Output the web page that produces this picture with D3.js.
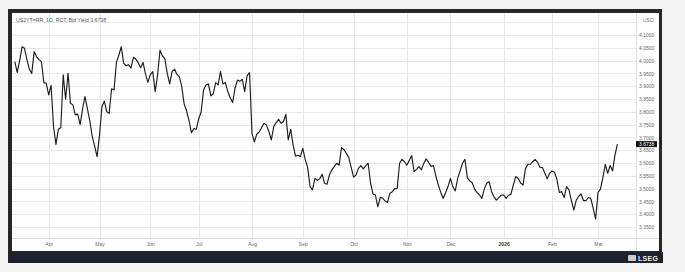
<!DOCTYPE html>
<html><head><meta charset="utf-8">
<script src="https://cdn.jsdelivr.net/npm/d3@7/dist/d3.min.js"></script>
<style>html,body{margin:0;padding:0;background:#f3f3f3;}svg{display:block}</style>
</head><body>
<svg id="c" width="685" height="272"></svg>
<script>
// ---- data ----
const titleText = "US2YT=RR, 1D, RCT, Bid Yield";
const lastLabel = "3.6738";
const currency = "USD";
const startDate = "2025-03-12";
const endDate = "2026-03-12";
const holidays = ["2025-04-18","2025-05-26","2025-06-19","2025-07-04","2025-09-01","2025-10-13",
  "2025-11-11","2025-11-27","2025-12-25","2026-01-01","2026-01-19","2026-02-16"];
const yields = [
  3.996,3.954,4.000,4.054,4.048,4.005,3.966,3.950,4.035,4.015,
  4.004,3.996,3.914,3.911,3.866,3.903,3.742,3.673,3.732,3.738,
  3.944,3.849,3.950,3.833,3.827,3.788,3.791,3.751,3.811,3.859,
  3.811,3.765,3.703,3.666,3.625,3.709,3.820,3.842,3.800,3.794,
  3.890,3.885,3.993,4.022,4.054,3.989,3.980,3.984,3.971,4.013,
  4.006,3.992,3.972,3.993,3.948,3.915,3.945,3.957,3.879,3.944,
  4.041,4.018,4.008,3.950,3.909,3.958,3.967,3.946,3.937,3.898,
  3.830,3.803,3.765,3.718,3.735,3.732,3.773,3.800,3.885,3.905,
  3.909,3.862,3.870,3.914,3.905,3.957,3.909,3.914,3.879,3.855,
  3.836,3.892,3.924,3.919,3.927,3.879,3.941,3.953,3.716,3.683,
  3.713,3.721,3.739,3.755,3.748,3.722,3.690,3.742,3.758,3.771,
  3.755,3.761,3.790,3.690,3.732,3.670,3.627,3.630,3.625,3.657,
  3.614,3.582,3.508,3.495,3.540,3.532,3.538,3.556,3.521,3.517,
  3.553,3.573,3.586,3.599,3.592,3.660,3.652,3.638,3.621,3.583,
  3.545,3.553,3.579,3.590,3.577,3.590,3.599,3.521,3.479,3.475,
  3.429,3.466,3.462,3.452,3.446,3.482,3.488,3.500,3.501,3.599,
  3.614,3.605,3.592,3.610,3.629,3.566,3.575,3.586,3.573,3.599,
  3.616,3.603,3.586,3.590,3.549,3.514,3.485,3.462,3.484,3.508,
  3.540,3.508,3.491,3.540,3.569,3.599,3.614,3.543,3.530,3.523,
  3.498,3.484,3.475,3.462,3.498,3.521,3.527,3.488,3.468,3.455,
  3.465,3.474,3.475,3.462,3.474,3.478,3.514,3.547,3.540,3.522,
  3.514,3.577,3.595,3.595,3.605,3.614,3.603,3.583,3.582,3.561,
  3.538,3.560,3.569,3.564,3.536,3.485,3.488,3.465,3.508,3.495,
  3.452,3.416,3.455,3.470,3.479,3.453,3.453,3.465,3.462,3.423,
  3.381,3.485,3.498,3.543,3.595,3.560,3.590,3.569,3.631,3.6738
];
const yTicks = [3.35,3.40,3.45,3.50,3.55,3.60,3.65,3.70,3.75,3.80,3.85,3.90,3.95,4.00,4.05,4.10];
const yGridExtra = [4.15];
const monthStarts = ["2025-04-01","2025-05-01","2025-06-01","2025-07-01","2025-08-01","2025-09-01",
  "2025-10-01","2025-11-01","2025-12-01","2026-01-01","2026-02-01","2026-03-01"];
const monthLabels = ["Apr","May","Jun","Jul","Aug","Sep","Oct","Nov","Dec","2026","Feb","Mar"];

// ---- trading days ----
const parse = d3.timeParse("%Y-%m-%d");
const fmt = d3.timeFormat("%Y-%m-%d");
const hol = new Set(holidays);
const days = d3.timeDay.range(parse(startDate), d3.timeDay.offset(parse(endDate), 1))
  .filter(d => d.getDay() !== 0 && d.getDay() !== 6 && !hol.has(fmt(d)));
const data = days.map((d, i) => ({date: d, i, v: yields[i]})).filter(d => d.v !== undefined);

const svg = d3.select("#c");
const W = 685, H = 272;
const plot = {l: 12, r: 636, t: 13, b: 238};

svg.append("rect").attr("width", W).attr("height", H).attr("fill", "#f3f3f3");
svg.append("rect").attr("x", 8).attr("y", 9).attr("width", 654).attr("height", 254).attr("fill", "#262626");
svg.append("rect").attr("x", 12).attr("y", 13).attr("width", 647).attr("height", 238).attr("fill", "#ffffff");
svg.append("rect").attr("x", 10).attr("y", 252).attr("width", 653).attr("height", 11).attr("fill", "#1d2230");

const x = d3.scaleLinear().domain([0, days.length - 1]).range([14.8, 617.4]);
const y = d3.scaleLinear().domain([3.35, 4.10]).range([227, 35]);

const tickIdx = monthStarts.map(s => days.findIndex(d => d >= parse(s)));

// grid
const gGridY = svg.append("g").attr("transform", `translate(${plot.l},0)`)
  .call(d3.axisRight(y).tickValues(yTicks.concat(yGridExtra)).tickSize(plot.r - plot.l).tickFormat(""));
gGridY.select(".domain").remove();
gGridY.selectAll("line").attr("stroke", "#e9e9e9").attr("stroke-width", 1).attr("shape-rendering", "crispEdges");

const gGridX = svg.append("g").attr("transform", `translate(0,${plot.b})`)
  .call(d3.axisBottom(x).tickValues(tickIdx).tickSize(-(plot.b - plot.t)).tickFormat(""));
gGridX.select(".domain").remove();
gGridX.selectAll("line").attr("stroke", "#e9e9e9").attr("stroke-width", 1).attr("shape-rendering", "crispEdges");

// separators
svg.append("line").attr("x1", 12).attr("x2", 659).attr("y1", plot.b + 0.5).attr("y2", plot.b + 0.5).attr("stroke", "#dedede");
svg.append("line").attr("x1", plot.r + 0.5).attr("x2", plot.r + 0.5).attr("y1", 13).attr("y2", 251).attr("stroke", "#e2e2e2");

// line
svg.append("path").datum(data)
  .attr("fill", "none").attr("stroke", "#1c1c1c").attr("stroke-width", 1.15)
  .attr("stroke-linejoin", "round")
  .attr("d", d3.line().x(d => x(d.i)).y(d => y(d.v)));

const font = "'Liberation Sans', Arial, sans-serif";
const gY = svg.append("g").attr("transform", `translate(${plot.r + 3},0)`)
  .call(d3.axisRight(y).tickValues(yTicks).tickSize(0).tickPadding(0).tickFormat(d3.format(".4f")));
gY.select(".domain").remove();
gY.selectAll("text").attr("font-family", font).attr("font-size", 5).attr("fill", "#666");

svg.append("text").attr("x", 643).attr("y", 21.5).attr("font-family", font).attr("font-size", 5).attr("fill", "#777").text(currency);

const gX = svg.append("g").attr("transform", `translate(0,${plot.b})`)
  .call(d3.axisBottom(x).tickValues(tickIdx).tickSize(0).tickPadding(4.5)
    .tickFormat((d, i) => monthLabels[i]));
gX.select(".domain").remove();
gX.selectAll("text").attr("font-family", font).attr("font-size", 5)
  .attr("font-weight", (d, i) => monthLabels[i] === "2026" ? "bold" : "normal")
  .attr("fill", (d, i) => monthLabels[i] === "2026" ? "#333" : "#666");

svg.append("text").attr("x", 16).attr("y", 22).attr("font-family", font).attr("font-size", 5.2).attr("fill", "#555")
  .text(titleText + "  " + lastLabel);

const last = data[data.length - 1];
svg.append("rect").attr("x", plot.r).attr("y", y(last.v) - 3).attr("width", 21).attr("height", 6).attr("fill", "#111");
svg.append("text").attr("x", plot.r + 3).attr("y", y(last.v) + 1.8).attr("font-family", font).attr("font-size", 5)
  .attr("fill", "#fff").text(lastLabel);

const lg = svg.append("g").attr("transform", "translate(628,253)");
lg.append("rect").attr("x", 0).attr("y", 2).attr("width", 8).attr("height", 6).attr("rx", 1).attr("fill", "#c9ccd3");
lg.append("text").attr("x", 10).attr("y", 8).attr("font-family", font).attr("font-size", 7).attr("font-weight", "bold")
  .attr("fill", "#e8e9ee").attr("letter-spacing", 0.3).text("LSEG");
</script>
</body></html>
